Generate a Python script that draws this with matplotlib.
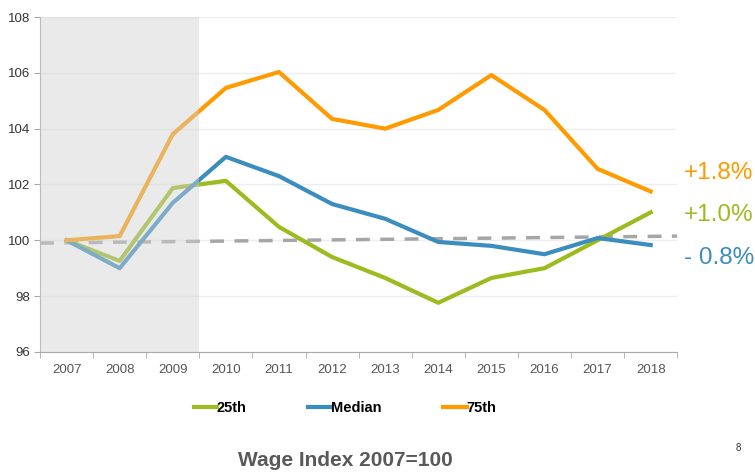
import matplotlib
matplotlib.use("Agg")
import matplotlib.pyplot as plt
import numpy as np

# data
years = ['2007', '2008', '2009', '2010', '2011', '2012', '2013', '2014', '2015', '2016', '2017', '2018']
p25 = [100.0, 99.26, 101.87, 102.13, 100.48, 99.4, 98.65, 97.76, 98.65, 99.0, 100.0, 101.0]
median = [100.0, 99.0, 101.34, 102.99, 102.3, 101.3, 100.77, 99.94, 99.8, 99.5, 100.08, 99.83]
p75 = [100.0, 100.15, 103.8, 105.46, 106.03, 104.35, 104.0, 104.67, 105.92, 104.67, 102.56, 101.75]
trend = [99.9, 100.15]  # dashed grey line, start and end
labels = ['+1.8%', '+1.0%', '- 0.8%']

GREEN = '#9bbb1f'
BLUE = '#3b8dbd'
ORANGE = '#ff9a00'

plt.rcParams['font.family'] = ['Liberation Sans', 'DejaVu Sans']

fig = plt.figure(figsize=(7.55, 4.73), dpi=100)
ax = fig.add_axes([0.053, 0.256, 0.844, 0.708])

x = np.arange(len(years))
ax.plot(x, p25, color=GREEN, lw=3, label='25th', zorder=3)
ax.plot(x, median, color=BLUE, lw=3, label='Median', zorder=3)
ax.plot(x, p75, color=ORANGE, lw=3, label='75th', zorder=3)
ax.plot([-0.5, len(years) - 0.5], trend, color='#a6a6a6', lw=2.5, ls=(0, (4, 3)), zorder=2)

# recession shading drawn over the lines
ax.axvspan(-0.5, 2.5, color='#d2d2d2', alpha=0.45, lw=0, zorder=4)

ax.set_xlim(-0.5, len(years) - 0.5)
ax.set_ylim(96, 108)
ax.set_yticks(range(96, 109, 2))
ax.set_xticks(x)
ax.set_xticklabels(years)
ax.set_xticks(np.arange(-0.5, len(years), 1), minor=True)
ax.tick_params(axis='x', which='major', length=0, pad=9, labelsize=9.5, labelcolor='#555555')
ax.tick_params(axis='x', which='minor', length=4, color='#aaaaaa')
ax.tick_params(axis='y', length=4, color='#aaaaaa', labelsize=9.5, labelcolor='#333333', pad=3)
ax.grid(axis='y', color='#eeeeee', lw=1, zorder=0)
for s in ['top', 'right']:
    ax.spines[s].set_visible(False)
for s in ['left', 'bottom']:
    ax.spines[s].set_color('#aaaaaa')

# end-of-line change labels
fig.text(0.906, 0.635, labels[0], color=ORANGE, fontsize=17.5, va='center')
fig.text(0.906, 0.545, labels[1], color=GREEN, fontsize=17.5, va='center')
fig.text(0.906, 0.455, labels[2], color=BLUE, fontsize=17.5, va='center')

leg = fig.legend(loc='center', bbox_to_anchor=(0.457, 0.137), ncol=3, frameon=False,
                 handlelength=1.6, handletextpad=0.0, columnspacing=4.2,
                 prop={'weight': 'bold', 'size': 10.5})

fig.text(0.457, 0.027, 'Wage Index 2007=100', color='#595959', fontsize=15,
         fontweight='bold', ha='center', va='center')
fig.text(0.978, 0.052, '8', color='#333333', fontsize=7, ha='center', va='center')

fig.savefig('out.png', dpi=100)
